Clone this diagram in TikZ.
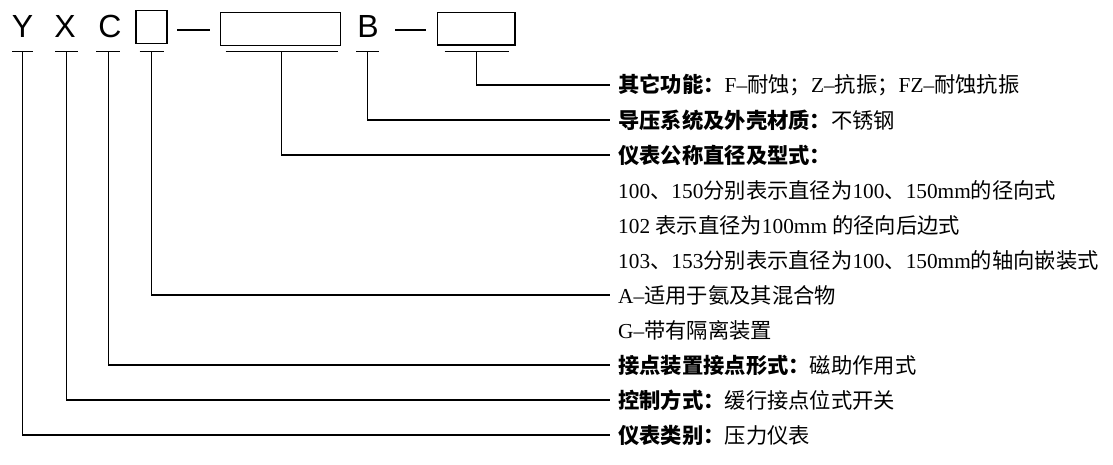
\documentclass[tikz,border=0pt]{standalone}
\usepackage{fontspec}
\setmainfont{Liberation Serif}
\newfontfamily\cjk{Noto Sans CJK SC}
\newfontfamily\arialf{Liberation Sans}
\newcommand\zh[1]{{\cjk #1}}
\newcommand\zhb[1]{{\cjk\bfseries #1}}
\begin{document}
\begin{tikzpicture}[x=1pt,y=-1pt,
  ln/.style={line width=1.5pt,black},
  letter/.style={inner sep=0pt,anchor=base,font=\arialf\fontsize{32}{32}\selectfont},
  codebox/.style={draw,line width=1.5pt,inner sep=0pt},
  row/.style={inner sep=0pt,anchor=west,font=\fontsize{21.3}{22}\selectfont},
  lead/.style={ln,shorten >=8pt}]
\useasboundingbox (0,0) rectangle (1113,464);
% top code line
\node[letter] (Y) at (22.5,37) {Y};
\node[letter] (X) at (65,37) {X};
\node[letter] (C) at (110,37) {C};
\node[codebox,minimum width=31pt,minimum height=32.6pt] (sb) at (151.5,27) {};
\node[codebox,minimum width=120pt,minimum height=33pt] (bb) at (280.7,29.2) {};
\node[letter] (B) at (368,37) {B};
\node[codebox,minimum width=77.3pt,minimum height=32.7pt] (eb) at (476.3,28.6) {};
\coordinate (d1a) at (177,30); \coordinate (d1b) at (210,30);
\coordinate (d2a) at (395,30); \coordinate (d2b) at (426,30);
\draw[ln] (d1a) -- (d1b);
\draw[ln] (d2a) -- (d2b);
% under bars
\coordinate (yb) at (22.7,51.7);
\coordinate (xb) at (66.7,51.7);
\coordinate (cb) at (108.3,51.7);
\coordinate (sbb) at (151.7,51.7);
\coordinate (bbb) at (281.7,51.7);
\coordinate (Bb) at (367.5,51.7);
\coordinate (ebb) at (476.7,51.7);
\draw[ln] ([xshift=-10.5pt]yb) -- ([xshift=10.5pt]yb);
\draw[ln] ([xshift=-11.5pt]xb) -- ([xshift=11.5pt]xb);
\draw[ln] ([xshift=-12pt]cb) -- ([xshift=12pt]cb);
\draw[ln] ([xshift=-12pt]sbb) -- ([xshift=12pt]sbb);
\draw[ln] ([xshift=-56pt]bbb) -- ([xshift=56pt]bbb);
\draw[ln] ([xshift=-11.5pt]Bb) -- ([xshift=11.5pt]Bb);
\draw[ln] ([xshift=-32pt]ebb) -- ([xshift=32pt]ebb);
% rows
\node[row] (t1) at (618,85) {\zhb{其它功能：}F–\zh{耐蚀；}Z–\zh{抗振；}FZ–\zh{耐蚀抗振}};
\node[row] (t2) at (618,120) {\zhb{导压系统及外壳材质：}\zh{不锈钢}};
\node[row] (t3) at (618,155) {\zhb{仪表公称直径及型式：}};
\node[row] (t4) at (618,190) {100\zh{、}150\zh{分别表示直径为}100\zh{、}150mm\zh{的径向式}};
\node[row] (t5) at (618,225) {102 \zh{表示直径为}100mm \zh{的径向后边式}};
\node[row] (t6) at (618,260) {103\zh{、}153\zh{分别表示直径为}100\zh{、}150mm\zh{的轴向嵌装式}};
\node[row] (t7) at (618,295) {A–\zh{适用于氨及其混合物}};
\node[row] (t8) at (618,330) {G–\zh{带有隔离装置}};
\node[row] (t9) at (618,365) {\zhb{接点装置接点形式：}\zh{磁助作用式}};
\node[row] (t10) at (618,400) {\zhb{控制方式：}\zh{缓行接点位式开关}};
\node[row] (t11) at (618,435) {\zhb{仪表类别：}\zh{压力仪表}};
% leaders
\draw[lead] (ebb) |- (t1.west);
\draw[lead] (Bb) |- (t2.west);
\draw[lead] (bbb) |- (t3.west);
\draw[lead] (sbb) |- (t7.west);
\draw[lead] (cb) |- (t9.west);
\draw[lead] (xb) |- (t10.west);
\draw[lead] (yb) |- (t11.west);
\end{tikzpicture}
\end{document}
